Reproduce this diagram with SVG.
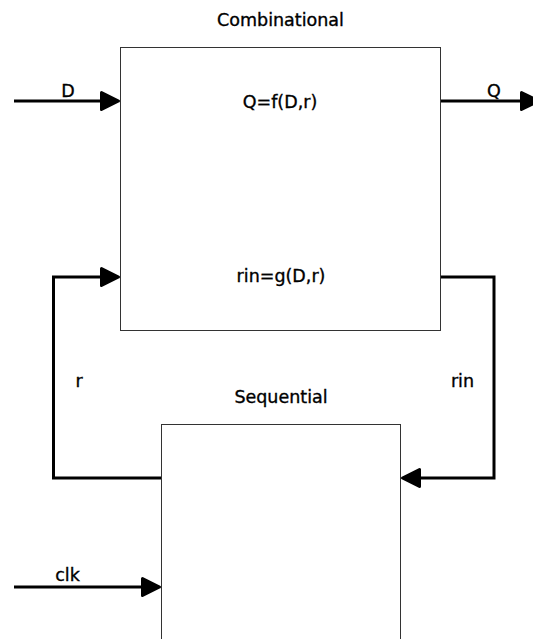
<svg xmlns="http://www.w3.org/2000/svg" width="533" height="639" viewBox="0 0 533 639">
<style>
.box{fill:#fff;stroke:#333;stroke-width:1}
.wire{fill:none;stroke:#000;stroke-width:3;stroke-linejoin:miter}
text{font-family:"DejaVu Sans",sans-serif;font-size:17.5px;fill:#000;stroke:#000;stroke-width:0.35px;text-anchor:middle}
</style>
<defs>
<marker id="arr" viewBox="0 0 20 20" markerWidth="20" markerHeight="20" refX="12" refY="10" orient="auto" markerUnits="userSpaceOnUse" overflow="visible">
<path d="M1.5,1.5 L18.5,10 L1.5,18.5 z" fill="#000" stroke="#000" stroke-width="3" stroke-linejoin="round"/>
</marker>
</defs>
<rect width="533" height="639" fill="#fff"/>
<g id="combinational">
<rect class="box" x="120.5" y="47.5" width="320" height="283"/>
<text x="280.5" y="26">Combinational</text>
<text x="280" y="108">Q=f(D,r)</text>
<text x="281" y="282">rin=g(D,r)</text>
</g>
<g id="sequential">
<rect class="box" x="161.5" y="424.5" width="239" height="300"/>
<text x="281" y="403">Sequential</text>
</g>
<g id="connectors">
<path class="wire" d="M14,101 H112" marker-end="url(#arr)"/>
<path class="wire" d="M441,101 H532" marker-end="url(#arr)"/>
<path class="wire" d="M161,478 H53.5 V277 H112" marker-end="url(#arr)"/>
<path class="wire" d="M441,277 H494 V478 H409" marker-end="url(#arr)"/>
<path class="wire" d="M14,587 H153" marker-end="url(#arr)"/>
<text x="68" y="97">D</text>
<text x="494" y="97">Q</text>
<text x="79" y="387">r</text>
<text x="462.5" y="387">rin</text>
<text x="67.5" y="581">clk</text>
</g>
</svg>
